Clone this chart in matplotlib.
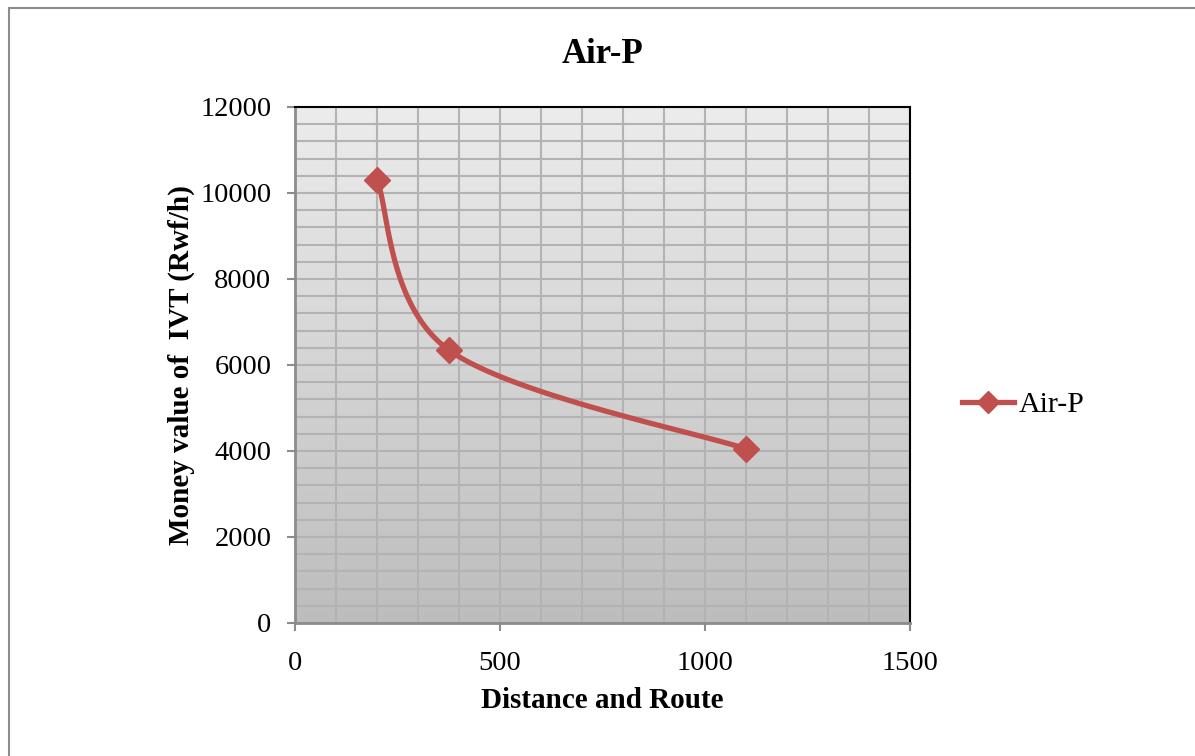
import numpy as np
import matplotlib
matplotlib.use("Agg")
import matplotlib.pyplot as plt
from matplotlib.lines import Line2D
from matplotlib.patches import Rectangle
from matplotlib.colors import LinearSegmentedColormap

distance = [200, 375, 1100]
money_value = [10300, 6350, 4050]
series_name = "Air-P"
x_ticks = [0, 500, 1000, 1500]
y_ticks = [0, 2000, 4000, 6000, 8000, 10000, 12000]

plt.rcParams['font.family'] = ['Liberation Serif', 'DejaVu Serif']
red = '#c0504d'


def smooth_curve(xs, ys, n=60):
    """Catmull-Rom style Bezier smoothing between consecutive points."""
    pts = np.column_stack([xs, ys]).astype(float)
    out = []
    for i in range(len(pts) - 1):
        p0 = pts[i - 1] if i > 0 else pts[i]
        p1 = pts[i]
        p2 = pts[i + 1]
        p3 = pts[i + 2] if i + 2 < len(pts) else pts[i + 1]
        c1 = p1 + (p2 - p0) / 6.0
        c2 = p2 - (p3 - p1) / 6.0
        t = np.linspace(0, 1, n)[:, None]
        seg = ((1 - t) ** 3) * p1 + 3 * ((1 - t) ** 2) * t * c1 + 3 * (1 - t) * t ** 2 * c2 + t ** 3 * p2
        out.append(seg if i == 0 else seg[1:])
    seg = np.vstack(out)
    return seg[:, 0], seg[:, 1]


fig = plt.figure(figsize=(11.95, 7.56), dpi=100)
fig.patches.append(Rectangle((9 / 1195, -0.01), 1.02, 1 - 8 / 756 + 0.01,
                             transform=fig.transFigure, fill=False,
                             edgecolor='#8c8c8c', linewidth=1.5))

ax = fig.add_axes([295 / 1195, 1 - 623 / 756, 615 / 1195, 516 / 756])
ax.set_xlim(0, 1500)
ax.set_ylim(0, 12000)

# vertical gradient background of the plot area
cmap = LinearSegmentedColormap.from_list('bg', ['#bdbdbd', '#ececec'])
grad = np.linspace(0, 1, 256)[:, None]
ax.imshow(grad, extent=[0, 1500, 0, 12000], origin='lower', aspect='auto',
          cmap=cmap, zorder=0)

ax.set_xticks(np.arange(0, 1501, 100), minor=True)
ax.set_yticks(np.arange(0, 12001, 400), minor=True)
ax.set_xticks(x_ticks)
ax.set_yticks(y_ticks)
ax.grid(True, which='both', color='#b3b3b3', linewidth=1.5, zorder=1)
ax.set_axisbelow(True)
ax.tick_params(which='minor', length=0)
ax.tick_params(which='major', length=6, width=1.5, color='#8c8c8c',
               labelsize=20.5)
ax.tick_params(axis='x', which='major', pad=14)
ax.tick_params(axis='y', which='major', pad=11)

for side in ['left', 'bottom']:
    ax.spines[side].set_color('#8c8c8c')
    ax.spines[side].set_linewidth(2)
for side in ['top', 'right']:
    ax.spines[side].set_color('black')
    ax.spines[side].set_linewidth(1.5)

sx, sy = smooth_curve(distance, money_value)
ax.plot(sx, sy, color=red, linewidth=3.8, solid_capstyle='round', zorder=3)
ax.plot(distance, money_value, linestyle='none', marker='D', markersize=13,
        color=red, zorder=4)

ax.set_title(series_name, fontsize=25, fontweight='bold', pad=32)
ax.set_xlabel('Distance and Route', fontsize=21, fontweight='bold', labelpad=8)
ax.set_ylabel('Money value of  IVT (Rwf/h)', fontsize=21, fontweight='bold', labelpad=4)

handle = Line2D([], [], color=red, linewidth=3.8, marker='D', markersize=11)
fig.legend([handle], [series_name], loc='center left',
           bbox_to_anchor=(935 / 1195, 1 - 405 / 756), frameon=False,
           fontsize=21.5, handlelength=1.75, handletextpad=0.15)

fig.savefig('out.png', dpi=100)
